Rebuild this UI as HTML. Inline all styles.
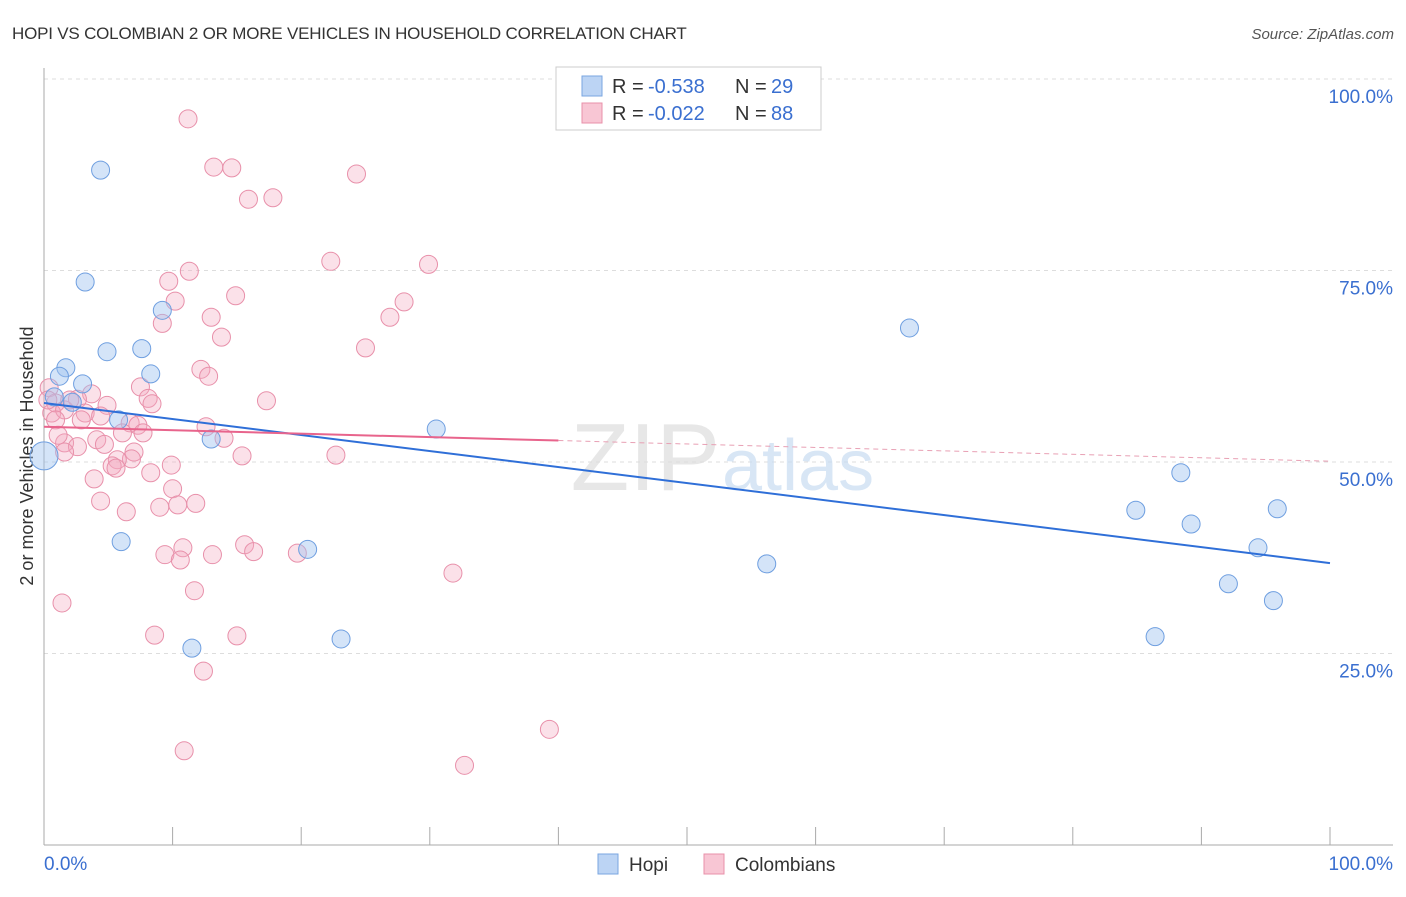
<!DOCTYPE html>
<html><head><meta charset="utf-8"><style>
body{margin:0;background:#fff;font-family:"Liberation Sans",sans-serif}
svg text{font-family:"Liberation Sans",sans-serif}
</style></head><body>
<svg id="c" width="1406" height="892" xmlns="http://www.w3.org/2000/svg">
<text x="12" y="39" font-size="17" fill="#333" letter-spacing="-0.2">HOPI VS COLOMBIAN 2 OR MORE VEHICLES IN HOUSEHOLD CORRELATION CHART</text>
<text x="1394" y="39" font-size="15" fill="#555" text-anchor="end" font-style="italic">Source: ZipAtlas.com</text>
<text transform="translate(33,456) rotate(-90)" font-size="18" fill="#333" text-anchor="middle">2 or more Vehicles in Household</text>
<g id="grid"></g>
<text x="720" y="490" font-size="96" fill="#ddd" font-family="Liberation Serif" text-anchor="end" opacity="0.7">ZIP</text>
<text x="722" y="490" font-size="72" fill="#c8dcf2" opacity="0.7">atlas</text>
<g id="pts"></g>
<g id="lines"></g>
<g>
<rect x="556" y="67" width="265" height="63" fill="#fff" stroke="#ccc"/>
<rect x="582" y="76" width="20" height="20" fill="#bcd4f4" stroke="#7aa6e0"/>
<text x="612" y="93" font-size="20" fill="#333">R =</text>
<text x="648" y="93" font-size="20" fill="#3a6fd0">-0.538</text>
<text x="735" y="93" font-size="20" fill="#333">N =</text>
<text x="771" y="93" font-size="20" fill="#3a6fd0">29</text>
<rect x="582" y="103" width="20" height="20" fill="#f8c6d4" stroke="#e890aa"/>
<text x="612" y="120" font-size="20" fill="#333">R =</text>
<text x="648" y="120" font-size="20" fill="#3a6fd0">-0.022</text>
<text x="735" y="120" font-size="20" fill="#333">N =</text>
<text x="771" y="120" font-size="20" fill="#3a6fd0">88</text>
</g>
<g>
<rect x="598" y="854" width="20" height="20" fill="#bcd4f4" stroke="#7aa6e0"/>
<text x="629" y="871" font-size="19" fill="#333">Hopi</text>
<rect x="704" y="854" width="20" height="20" fill="#f8c6d4" stroke="#e890aa"/>
<text x="735" y="871" font-size="19" fill="#333">Colombians</text>
</g>
</svg>
<script>
const hopiX=[4.4,3.2,9.2,4.9,7.6,1.7,1.2,8.3,3.0,0.8,2.2,5.8,13.0,6.0,20.5,11.5,23.1,30.5,67.3,56.2,84.9,88.4,89.2,95.9,94.4,92.1,95.6,86.4];
const hopiY=[88.1,73.5,69.8,64.4,64.8,62.3,61.2,61.5,60.2,58.5,57.8,55.5,53.0,39.6,38.6,25.7,26.9,54.3,67.5,36.7,43.7,48.6,41.9,43.9,38.8,34.1,31.9,27.2];
const colX=[11.2,13.2,14.6,15.9,17.8,24.3,22.3,29.9,11.3,9.7,14.9,10.2,28.0,13.0,9.2,26.9,13.8,25.0,12.2,12.8,7.5,17.3,0.4,3.7,8.1,8.4,4.9,2.6,0.9,0.6,1.6,3.2,4.4,2.9,0.9,6.7,7.3,12.6,6.1,7.7,4.1,14.0,4.7,1.6,2.6,1.6,7.0,6.8,5.7,15.4,22.7,5.3,5.6,9.9,8.3,3.9,10.0,4.4,9.0,11.8,10.4,6.4,10.8,15.6,9.4,13.1,16.3,19.7,10.6,31.8,11.7,1.4,8.6,15.0,12.4,39.3,10.9,32.7,0.3,1.1,2.0];
const colY=[94.8,88.5,88.4,84.3,84.5,87.6,76.2,75.8,74.9,73.6,71.7,71.0,70.9,68.9,68.1,68.9,66.3,64.9,62.1,61.2,59.8,58.0,59.7,58.9,58.3,57.6,57.4,58.2,57.7,56.4,56.8,56.4,56.0,55.5,55.5,55.1,54.8,54.6,53.8,53.8,52.9,53.1,52.3,52.5,52.0,51.3,51.3,50.4,50.3,50.8,50.9,49.5,49.2,49.6,48.6,47.8,46.5,44.9,44.1,44.6,44.4,43.5,38.8,39.2,37.9,37.9,38.3,38.1,37.2,35.5,33.2,31.6,27.4,27.3,22.7,15.1,12.3,10.4,58.1,53.5,58.1];
const hopiTrend=[57.7,36.8];
const colTrend=[54.6,50.1];
const yTicks=[25,50,75,100];
const xTickLabels=["0.0%","100.0%"];
const NS="http://www.w3.org/2000/svg";
const X=v=>44+v*12.86, Y=v=>845-v*7.66;
function mk(t,a,p){const e=document.createElementNS(NS,t);for(const k in a)e.setAttribute(k,a[k]);p.appendChild(e);return e;}
const grid=document.getElementById('grid');
for(const t of yTicks){
 const l=mk('line',{x1:44,x2:1393,y1:Y(t),y2:Y(t),stroke:'#ddd','stroke-dasharray':'4,4'},grid);
 
 
 const tx=mk('text',{x:1393,y:Y(t)+24,'font-size':19,fill:'#3a6fd0','text-anchor':'end'},grid);
 tx.textContent=t.toFixed(1)+'%';
 
 
}
const ax=mk('line',{x1:44,x2:1393,y1:845,y2:845,stroke:'#aaa'},grid);


const ay=mk('line',{x1:44,x2:44,y1:68,y2:845,stroke:'#aaa'},grid);


for(let i=0;i<=10;i++){const tk=mk('line',{x1:X(i*10),x2:X(i*10),y1:827,y2:845,stroke:'#aaa'},grid);
 
 }
const t0=mk('text',{x:44,y:870,'font-size':19,fill:'#3a6fd0'},grid);t0.textContent=xTickLabels[0];


const t1=mk('text',{x:1393,y:870,'font-size':19,fill:'#3a6fd0','text-anchor':'end'},grid);t1.textContent=xTickLabels[1];


const pts=document.getElementById('pts');
colX.forEach((x,i)=>{const c=mk('circle',{cx:X(x),cy:Y(colY[i]),r:9,fill:'rgba(244,170,192,0.35)',stroke:'#e890aa','stroke-width':1},pts);
 
 });
hopiX.forEach((x,i)=>{const c=mk('circle',{cx:X(x),cy:Y(hopiY[i]),r:9,fill:'rgba(160,195,240,0.45)',stroke:'#6f9fe0','stroke-width':1},pts);
 
 });
const big=mk('circle',{cx:X(0),cy:Y(50.8),r:14,fill:'rgba(160,195,240,0.45)',stroke:'#6f9fe0'},pts);


const ln=document.getElementById('lines');
const hl=mk('line',{x1:X(0),y1:Y(hopiTrend[0]),x2:X(100),y2:Y(hopiTrend[1]),stroke:'#2f6fd8','stroke-width':2},ln);


const cm=colTrend[0]+(colTrend[1]-colTrend[0])*0.4;
const cl=mk('line',{x1:X(0),y1:Y(colTrend[0]),x2:X(40),y2:Y(cm),stroke:'#e8648c','stroke-width':2},ln);


const cd=mk('line',{x1:X(40),y1:Y(cm),x2:X(100),y2:Y(colTrend[1]),stroke:'#e8a0b4','stroke-width':1,'stroke-dasharray':'5,4'},ln);


</script>
</body></html>
